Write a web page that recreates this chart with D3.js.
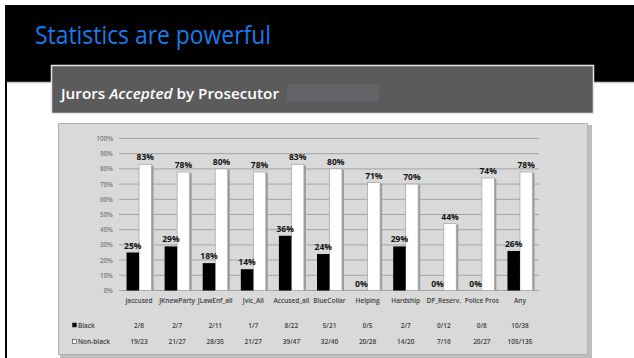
<!DOCTYPE html>
<head>
  <meta charset="utf-8">
  <script src="https://d3js.org/d3.v7.min.js"></script>
  <style>
    body { margin: 0; background: #fff; }
    text { font-family: "Open Sans", "Noto Sans", sans-serif; }
  </style>
</head>
<body>
<script>

  // data
  var categories = ["Jaccused", "JKnewParty", "JLawEnf_all", "Jvic_All", "Accused_all",
                    "BlueCollar", "Helping", "Hardship", "DP_Reserv.", "Police Pros", "Any"];
  var blackPct = [25, 29, 18, 14, 36, 24, 0, 29, 0, 0, 26];
  var nonBlackPct = [83, 78, 80, 78, 83, 80, 71, 70, 44, 74, 78];
  var blackCounts = ["2/8", "2/7", "2/11", "1/7", "8/22", "5/21", "0/5", "2/7", "0/12", "0/8", "10/38"];
  var nonBlackCounts = ["19/23", "21/27", "28/35", "21/27", "39/47", "32/40", "20/28", "14/20", "7/16", "20/27", "105/135"];
  var yTicks = [0, 10, 20, 30, 40, 50, 60, 70, 80, 90, 100];
  var series = ["Black", "Non-black"];

  var svg = d3.select("body").append("svg")
    .attr("width", 634)
    .attr("height", 358);

  // slide background
  svg.append("rect").attr("x", 5).attr("y", 5).attr("width", 629).attr("height", 77).attr("fill", "#000");
  svg.append("line").attr("x1", 6).attr("x2", 634).attr("y1", 82.5).attr("y2", 82.5)
    .attr("stroke", "#c8c8c8").attr("stroke-width", 1.5);
  svg.append("line").attr("x1", 6).attr("x2", 6).attr("y1", 82).attr("y2", 358)
    .attr("stroke", "#000").attr("stroke-width", 2);

  svg.append("text")
    .attr("x", 35).attr("y", 43.5)
    .attr("fill", "#1a7be8")
    .style("font-size", "26px")
    .style("font-weight", "500")
    .attr("textLength", 236)
    .attr("lengthAdjust", "spacingAndGlyphs")
    .text("Statistics are powerful");

  // subtitle box
  svg.append("rect").attr("x", 51.5).attr("y", 65.5).attr("width", 542).attr("height", 48)
    .attr("fill", "#5b5b5b").attr("stroke", "#e8e8e8").attr("stroke-width", 1.5);
  var sub = svg.append("text").attr("x", 61).attr("y", 99)
    .attr("fill", "#fff").style("font-size", "14.5px").style("font-weight", "600")
    .attr("textLength", 218).attr("lengthAdjust", "spacingAndGlyphs");
  sub.append("tspan").text("Jurors ");
  sub.append("tspan").style("font-style", "italic").text("Accepted");
  sub.append("tspan").text(" by Prosecutor");
  svg.append("rect").attr("x", 287).attr("y", 84).attr("width", 92).attr("height", 17).attr("fill", "#646468");

  // chart panel
  svg.append("rect").attr("x", 60).attr("y", 125).attr("width", 532).attr("height", 233).attr("fill", "#bdbdbd");
  svg.append("rect").attr("x", 58.5).attr("y", 123.5).attr("width", 529).attr("height", 231)
    .attr("fill", "#d9d9d9").attr("stroke", "#b0b0b0");

  var x = d3.scaleBand()
    .domain(categories)
    .range([120, 539]);

  var y = d3.scaleLinear()
    .domain([0, 100])
    .range([290.5, 138.5]);

  var barW = 12.5;

  // gridlines
  svg.selectAll(".grid").data(yTicks).enter().append("line")
    .attr("class", "grid")
    .attr("x1", 119).attr("x2", 539)
    .attr("y1", function(d) { return y(d); })
    .attr("y2", function(d) { return y(d); })
    .attr("stroke", "#a3a3a3").attr("stroke-width", 1);

  svg.selectAll(".ylab").data(yTicks).enter().append("text")
    .attr("class", "ylab")
    .attr("x", 113)
    .attr("y", function(d) { return y(d) + 2.5; })
    .attr("text-anchor", "end")
    .attr("fill", "#7a7a7a")
    .style("font-size", "6.5px")
    .style("font-weight", "600")
    .text(function(d) { return d + "%"; });

  var rows = categories.map(function(c, i) {
    return { cat: c, black: blackPct[i], nonBlack: nonBlackPct[i], bc: blackCounts[i], nc: nonBlackCounts[i] };
  });

  var g = svg.selectAll(".cat").data(rows).enter().append("g").attr("class", "cat");

  function cx(d) { return x(d.cat) + x.bandwidth() / 2; }

  // white bars with shadow
  g.append("rect")
    .attr("x", function(d) { return cx(d) + 2; })
    .attr("y", function(d) { return y(d.nonBlack) + 1; })
    .attr("width", barW)
    .attr("height", function(d) { return y(0) - y(d.nonBlack) - 1; })
    .attr("fill", "#9b9b9b");
  g.append("rect")
    .attr("x", function(d) { return cx(d); })
    .attr("y", function(d) { return y(d.nonBlack); })
    .attr("width", barW)
    .attr("height", function(d) { return y(0) - y(d.nonBlack); })
    .attr("fill", "#fff").attr("stroke", "#a8a8a8").attr("stroke-width", 0.8);

  // black bars
  g.filter(function(d) { return d.black > 0; }).append("rect")
    .attr("x", function(d) { return cx(d) - barW; })
    .attr("y", function(d) { return y(d.black); })
    .attr("width", barW)
    .attr("height", function(d) { return y(0) - y(d.black); })
    .attr("fill", "#000");

  // value labels
  g.append("text")
    .attr("x", function(d) { return cx(d) + barW / 2; })
    .attr("y", function(d) { return y(d.nonBlack) - 4; })
    .attr("text-anchor", "middle")
    .style("font-size", "8.5px").style("font-weight", "700").attr("fill", "#111")
    .text(function(d) { return d.nonBlack + "%"; });
  g.append("text")
    .attr("x", function(d) { return cx(d) - barW / 2; })
    .attr("y", function(d) { return y(d.black) - 4; })
    .attr("text-anchor", "middle")
    .style("font-size", "8.5px").style("font-weight", "700").attr("fill", "#111")
    .text(function(d) { return d.black + "%"; });

  // category labels and counts
  g.append("text")
    .attr("x", cx).attr("y", 303)
    .attr("text-anchor", "middle")
    .style("font-size", "6.5px").style("font-weight", "600").attr("fill", "#404040")
    .text(function(d) { return d.cat; });
  g.append("text")
    .attr("x", cx).attr("y", 327.5)
    .attr("text-anchor", "middle")
    .style("font-size", "6.5px").style("font-weight", "600").attr("fill", "#404040")
    .text(function(d) { return d.bc; });
  g.append("text")
    .attr("x", cx).attr("y", 344)
    .attr("text-anchor", "middle")
    .style("font-size", "6.5px").style("font-weight", "600").attr("fill", "#404040")
    .text(function(d) { return d.nc; });

  // legend rows
  var legY = [327.5, 344];
  var leg = svg.selectAll(".leg").data(series).enter().append("g").attr("class", "leg");
  leg.append("rect")
    .attr("x", 72.5).attr("y", function(d, i) { return legY[i] - 4.5; })
    .attr("width", 4).attr("height", 4)
    .attr("fill", function(d, i) { return i === 0 ? "#000" : "#fff"; })
    .attr("stroke", "#333").attr("stroke-width", 0.6);
  leg.append("text")
    .attr("x", 78).attr("y", function(d, i) { return legY[i]; })
    .style("font-size", "6.5px").style("font-weight", "600").attr("fill", "#404040")
    .text(function(d) { return d; });

</script>
</body>
